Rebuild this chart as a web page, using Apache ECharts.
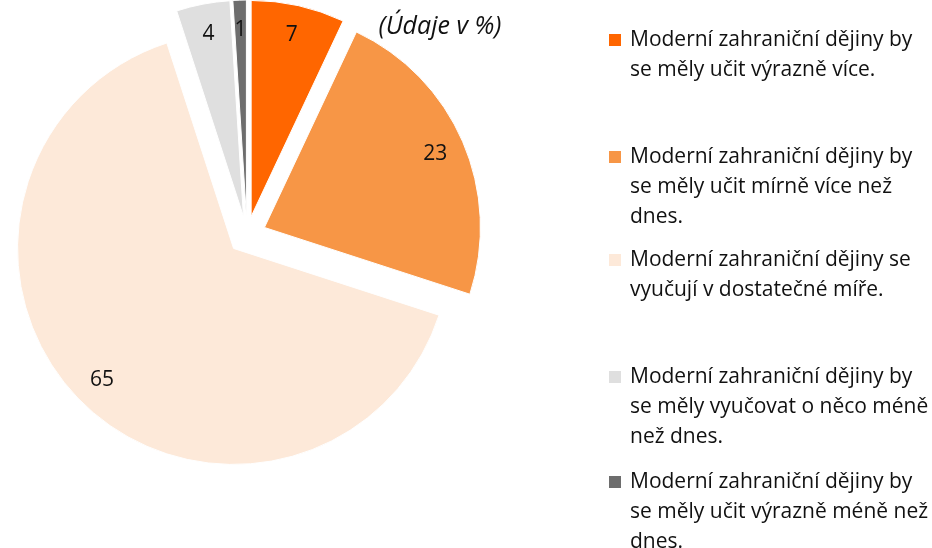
<!DOCTYPE html>
<html>
<head>
<meta charset="utf-8">
<script src="https://cdn.jsdelivr.net/npm/echarts@6/dist/echarts.min.js"></script>
<style>
  html, body { margin: 0; padding: 0; background: #fff; }
  #chart { width: 932px; height: 548px; }
</style>
</head>
<body>
<div id="chart"></div>
<script>
// kategorie (zalomeni radku jako v legende), hodnoty v %
let categories = [
    'Moderní zahraniční dějiny by\nse měly učit výrazně více.',
    'Moderní zahraniční dějiny by\nse měly učit mírně více než\ndnes.',
    'Moderní zahraniční dějiny se\nvyučují v dostatečné míře.',
    'Moderní zahraniční dějiny by\nse měly vyučovat o něco méně\nnež dnes.',
    'Moderní zahraniční dějiny by\nse měly učit výrazně méně než\ndnes.'
];
let values = [7, 23, 65, 4, 1];
let colors = ['#FF6600', '#F79646', '#FDE9D9', '#DFDFDF', '#6D6D6D'];
let subtitle = '(Údaje v %)';

let chart = echarts.init(document.getElementById('chart'));

// svisle stredy ikon legendy
let legendIconY = [40, 157, 260, 377, 482];
let lineH = 30;

let pieData = categories.map(function (name, i) {
    return { name: name, value: values[i], selected: true, itemStyle: { color: colors[i] } };
});
let ringData = categories.map(function (name, i) {
    return { name: name, value: values[i], selected: true };
});

// kazda polozka legendy zvlast; prazdne radky nahore, aby ikona sedela u prvniho radku
let legends = categories.map(function (name, i) {
    let n = name.split('\n').length;
    let pad = new Array(n).join('\u00a0\n');
    return {
        data: [name],
        left: 607,
        top: legendIconY[i] - (2 * n - 1) * lineH / 2,
        padding: 0,
        orient: 'vertical',
        icon: 'rect',
        itemWidth: 14,
        itemHeight: 14,
        selectedMode: false,
        formatter: function (s) { return pad + s; },
        textStyle: {
            fontFamily: 'Open Sans',
            fontSize: 21,
            color: '#111',
            lineHeight: lineH,
            padding: [0, 0, 0, 3]
        }
    };
});

let option = {
    animation: false,
    backgroundColor: '#fff',
    title: {
        text: subtitle,
        left: 435,
        top: 9,
        textAlign: 'center',
        textStyle: {
            fontFamily: 'Open Sans',
            fontStyle: 'italic',
            fontWeight: 'normal',
            fontSize: 25,
            color: '#111'
        }
    },
    legend: legends,
    series: [{
        type: 'pie',
        center: [247, 235],
        radius: 216,
        startAngle: 90,
        clockwise: true,
        selectedMode: 'multiple',
        selectedOffset: 19,
        label: { show: false },
        labelLine: { show: false },
        itemStyle: { borderColor: '#fff', borderWidth: 1 },
        select: { itemStyle: { borderColor: '#fff', borderWidth: 1 } },
        emphasis: { scale: false },
        data: pieData
    }, {
        // pruhledny prstenec jen pro umisteni popisku
        type: 'pie',
        center: [247, 235],
        radius: [150, 216],
        startAngle: 90,
        clockwise: true,
        silent: true,
        selectedMode: 'multiple',
        selectedOffset: 19,
        itemStyle: { color: 'rgba(0,0,0,0)' },
        select: { itemStyle: { color: 'rgba(0,0,0,0)', borderWidth: 0 } },
        label: {
            show: true,
            position: 'inside',
            formatter: '{c}',
            fontFamily: 'Open Sans',
            fontSize: 21,
            color: '#111'
        },
        labelLine: { show: false },
        data: ringData
    }]
};

chart.setOption(option);
</script>
</body>
</html>
